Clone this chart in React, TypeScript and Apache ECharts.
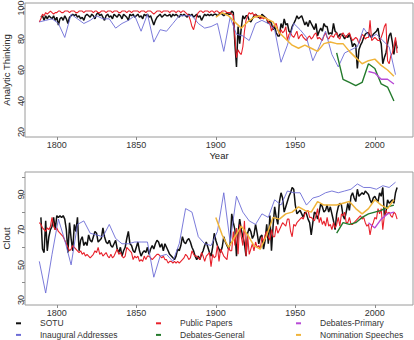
import React, { useEffect, useRef } from "react";
import * as echarts from "echarts";

// ---------- data ----------
const xTicks = [1800, 1850, 1900, 1950, 2000];
const analyticTicks = [20, 40, 60, 80, 100];
const cloutTicks = [30, 40, 50, 60, 70, 80, 90, 100];
const cloutLabels = [30, 50, 70, 90];

const SOTU_START = 1790; // yearly
const sotuAnalytic = [
  94, 95, 92, 95, 93, 95, 94, 93, 95, 92,
  94, 89, 93, 94, 92, 95, 93, 90, 94, 95,
  96, 95, 96, 94, 95, 93, 94, 92, 95, 96,
  95, 94, 96, 95, 93, 96, 97, 95, 96, 94,
  92, 95, 96, 94, 95, 93, 96, 95, 94, 96,
  95, 93, 96, 95, 94, 92, 96, 95, 96, 94,
  95, 96, 94, 95, 93, 96, 95, 96, 94, 95,
  92, 89, 92, 94, 95, 96, 94, 95, 96, 95,
  95, 96, 94, 96, 95, 96, 95, 94, 96, 95,
  96, 95, 94, 96, 95, 96, 94, 95, 96, 94,
  95, 92, 94, 96, 95, 96, 95, 96, 95, 96,
  96, 95, 96, 97, 96, 95, 96, 97, 96, 96,
  98, 97, 77, 62, 88, 77, 87, 95, 93, 95,
  95, 92, 91, 93, 95, 96, 95, 94, 93, 96,
  95, 94, 93, 90, 92, 90, 86, 88, 84, 82,
  82, 90, 87, 93, 89, 90, 85, 84, 88, 90,
  92, 95, 93, 94, 95, 92, 89, 91, 88, 92,
  90, 88, 86, 90, 82, 85, 87, 85, 90, 88,
  88, 83, 84, 83, 90, 85, 84, 81, 83, 83,
  82, 80, 82, 81, 83, 80, 75, 77, 76, 61,
  73, 76, 78, 81, 83, 84, 84, 82, 81, 83,
  84, 85, 87, 80, 77, 64, 68, 71, 77, 82,
  84, 78, 70, 79, 74,
];
const sotuClout = [
  77, 59, 57, 75, 58, 66, 70, 72, 77, 70,
  78, 77, 78, 77, 78, 76, 70, 57, 74, 65,
  58, 73, 69, 77, 58, 64, 66, 61, 63, 61,
  67, 64, 63, 66, 69, 68, 63, 64, 65, 71,
  66, 63, 62, 64, 61, 60, 62, 64, 59, 57,
  60, 55, 58, 60, 65, 69, 62, 61, 58, 57,
  60, 63, 58, 55, 57, 58, 57, 60, 56, 59,
  61, 59, 62, 64, 63, 60, 62, 58, 62, 60,
  58, 56, 55, 54, 53, 55, 59, 58, 61, 66,
  63, 62, 64, 65, 63, 60, 58, 55, 53, 55,
  53, 56, 58, 61, 63, 60, 57, 55, 60, 68,
  64, 61, 59, 57, 60, 66, 63, 61, 59, 62,
  79, 74, 70, 55, 68, 76, 70, 66, 62, 55,
  68, 71, 69, 65, 67, 73, 68, 62, 66, 67,
  59, 64, 73, 62, 78, 58, 72, 83, 77, 73,
  86, 91, 88, 80, 83, 86, 89, 91, 94, 93,
  84, 79, 80, 81, 79, 77, 80, 79, 76, 74,
  67, 74, 80, 79, 76, 80, 85, 83, 80, 81,
  84, 80, 83, 79, 75, 70, 79, 83, 85, 84,
  78, 76, 80, 85, 81, 89, 91, 88, 86, 93,
  89, 90, 91, 90, 92, 91, 90, 87, 85, 88,
  89, 87, 86, 91, 89, 94, 78, 80, 87, 85,
  86, 87, 85, 91, 94,
];

const PAPERS_START = 1789; // yearly
const papersAnalytic = [
  91,
  93, 96, 95, 97, 96, 97, 98, 97, 96, 97,
  97, 98, 98, 97, 97, 98, 98, 98, 97, 98,
  98, 98, 97, 97, 98, 98, 98, 97, 98, 98,
  98, 98, 98, 97, 98, 98, 97, 97, 98, 98,
  98, 97, 98, 98, 98, 97, 98, 98, 98, 97,
  97, 98, 98, 98, 97, 98, 98, 97, 98, 98,
  98, 98, 97, 98, 98, 98, 97, 98, 98, 98,
  97, 96, 97, 98, 98, 98, 97, 98, 98, 98,
  98, 97, 98, 98, 98, 97, 98, 98, 97, 98,
  98, 97, 96, 95, 92, 88, 86, 90, 95, 97,
  98, 98, 97, 98, 98, 98, 97, 98, 98, 97,
  98, 98, 97, 97, 98, 98, 98, 97, 97, 97,
  96, 95, 81, 68, 73, 71, 70, 75, 85, 92,
  95, 97, 96, 97, 95, 96, 94, 95, 93, 94,
  93, 94, 93, 91, 90, 85, 88, 89, 90, 86,
  83, 86, 84, 85, 88, 79, 83, 84, 82, 81,
  83, 85, 80, 82, 83, 81, 80, 79, 81, 82,
  80, 81, 83, 84, 80, 81, 80, 79, 82, 84,
  81, 80, 82, 82, 81, 83, 84, 81, 80, 83,
  84, 82, 81, 83, 84, 81, 79, 80, 81, 80,
  77, 80, 83, 82, 80, 81, 81, 92, 79, 80,
  81, 80, 79, 79, 81, 84, 88, 90, 66, 64,
  69, 71, 75, 81, 71,
];
const papersClout = [
  74,
  73, 71, 70, 69, 71, 70, 72, 77, 72, 70,
  71, 69, 68, 67, 66, 64, 62, 60, 58, 59,
  61, 60, 59, 58, 57, 58, 56, 57, 55, 56,
  55, 54, 55, 56, 58, 57, 60, 56, 57, 55,
  56, 57, 55, 54, 56, 54, 55, 57, 59, 56,
  57, 55, 54, 55, 60, 59, 58, 57, 53, 55,
  54, 55, 52, 53, 52, 55, 53, 55, 55, 54,
  53, 54, 55, 56, 56, 55, 54, 55, 53, 53,
  51, 52, 52, 51, 52, 51, 52, 51, 52, 53,
  54, 56, 55, 53, 54, 58, 56, 55, 55, 54,
  53, 57, 55, 52, 55, 56, 57, 49, 56, 54,
  55, 61, 52, 59, 57, 55, 54, 53, 60, 58,
  58, 69, 61, 71, 56, 73, 66, 61, 75, 55,
  67, 56, 59, 62, 58, 63, 60, 61, 59, 66,
  63, 67, 69, 66, 64, 70, 66, 66, 72, 68,
  70, 72, 74, 73, 72, 76, 76, 69, 66, 73,
  72, 74, 75, 76, 77, 76, 79, 80, 81, 77,
  77, 76, 75, 78, 82, 74, 77, 73, 75, 72,
  77, 72, 73, 70, 74, 71, 73, 77, 72, 79,
  78, 80, 74, 74, 77, 73, 73, 74, 75, 76,
  77, 78, 76, 77, 74, 72, 73, 67, 72, 74,
  77, 76, 82, 79, 82, 70, 78, 81, 79, 80,
  78, 77, 80, 79, 76,
];

const INAUG_START = 1789; // every 4 years
const inaugAnalytic = [
  91, 92, 93, 90, 81, 96, 93, 90,
  92, 95, 93, 93, 87, 90, 92, 95,
  85, 96, 78, 86, 85, 90, 95, 95,
  95, 90, 87, 88, 90, 72, 94, 83,
  82, 79, 90, 92, 90, 86, 65, 76,
  90, 86, 81, 66, 75, 85, 70, 62,
  71, 73, 75, 87, 81, 83, 79, 75,
  57,
];
const inaugClout = [
  52, 34, 56, 76, 64, 50, 73, 75,
  68, 67, 66, 73, 65, 62, 62, 63,
  63, 63, 43, 55, 56, 52, 62, 82,
  80, 66, 62, 61, 69, 91, 63, 89,
  80, 75, 73, 79, 77, 87, 84, 92,
  91, 91, 84, 88, 89, 91, 92, 91,
  92, 93, 96, 94, 94, 93, 95, 94,
  97,
];

const NOM_START = 1900; // every 4 years
const nomAnalytic = [
  94, 97, 95, 91, 87, 91, 94, 95, 93, 91,
  84, 80, 76, 74, 76, 74, 72, 77, 78, 77,
  77, 72, 68, 64, 66, 67, 63, 60, 56,
];
const nomClout = [
  77, 67, 60, 66, 72, 67, 61, 59, 67, 77,
  76, 79, 80, 83, 81, 80, 86, 84, 84, 84,
  85, 86, 82, 79, 82, 87, 84, 82, 87,
];

const GEN_START = 1976; // every 4 years
const genAnalytic = [71, 54, 52, 50, 52, 64, 61, 51, 49, 40];
const genClout = [68, 74, 73, 74, 77, 79, 80, 81, 83, 84];

const PRIM_START = 1996; // every 4 years
const primAnalytic = [59, 58, 54, 54, 51];
const primClout = [74, 71, 76, 79, 80];

// ---------- helpers ----------
const seq = (start: number, step: number, vals: number[]) =>
  vals.map((v, i) => [start + i * step, v]);

const FONT = "'Liberation Sans', Arial, Helvetica, sans-serif";

const SERIES_DEF = [
  { name: "SOTU", color: "#111111", width: 1.5, start: SOTU_START, step: 1, a: sotuAnalytic, c: sotuClout },
  { name: "Public Papers", color: "#e8212b", width: 1.1, start: PAPERS_START, step: 1, a: papersAnalytic, c: papersClout },
  { name: "Inaugural Addresses", color: "#6c6cd6", width: 0.9, start: INAUG_START, step: 4, a: inaugAnalytic, c: inaugClout },
  { name: "Debates-General", color: "#237a2c", width: 1.4, start: GEN_START, step: 4, a: genAnalytic, c: genClout },
  { name: "Debates-Primary", color: "#b84ad6", width: 1.4, start: PRIM_START, step: 4, a: primAnalytic, c: primClout },
  { name: "Nomination Speeches", color: "#f0b43a", width: 1.5, start: NOM_START, step: 4, a: nomAnalytic, c: nomClout },
];

const plain = (v: number) => String(v);

export default function App() {
  const ref = useRef<HTMLDivElement>(null);

  useEffect(() => {
    if (!ref.current) return;
    const chart = echarts.init(ref.current, undefined, { renderer: "svg" });

    const axisGray = "#8a8a8a";
    const labelColor = "#333333";

    const xAxisBase = (gridIndex: number, withName: boolean) => ({
      gridIndex,
      type: "value",
      min: 1780,
      max: 2024,
      name: withName ? "Year" : "",
      nameLocation: "middle",
      nameGap: 13,
      nameMoveOverlap: false,
      nameTextStyle: { fontSize: 9.5, color: "#222", fontFamily: FONT },
      axisLine: { show: false },
      splitLine: { show: false },
      axisTick: { show: true, customValues: xTicks, length: 3, lineStyle: { color: axisGray } },
      axisLabel: { customValues: xTicks, formatter: plain, fontSize: 9, color: labelColor, margin: 3, fontFamily: FONT },
    });

    const yAxisBase = (gridIndex: number, name: string, min: number, max: number, ticks: number[], labels: number[]) => ({
      gridIndex,
      type: "value",
      min,
      max,
      name,
      nameLocation: "middle",
      nameRotate: 90,
      nameGap: 14,
      nameMoveOverlap: false,
      nameTextStyle: { fontSize: 9.5, lineHeight: 10, color: "#222", fontFamily: FONT },
      axisLine: { show: false },
      splitLine: { show: false },
      axisTick: { show: true, customValues: ticks, length: 3, lineStyle: { color: axisGray } },
      axisLabel: { customValues: labels, formatter: plain, rotate: 90, margin: 0, fontSize: 9, color: labelColor, fontFamily: FONT },
    });

    const series: any[] = [];
    [0, 1].forEach((g) => {
      SERIES_DEF.forEach((s) => {
        series.push({
          type: "line",
          name: s.name,
          xAxisIndex: g,
          yAxisIndex: g,
          data: seq(s.start, s.step, g === 0 ? s.a : s.c),
          showSymbol: false,
          symbol: "none",
          color: s.color,
          lineStyle: { width: s.width, color: s.color },
          silent: true,
        });
      });
    });

    const legendBase = {
      orient: "vertical",
      top: 317.5,
      height: 24,
      itemWidth: 5,
      itemHeight: 2,
      itemGap: 0,
      icon: "rect",
      padding: 0,
      selectedMode: false,
      textStyle: { fontSize: 8.5, color: "#333", lineHeight: 11.6, padding: [0, 0, 0, 14], fontFamily: FONT },
    };

    chart.setOption({
      animation: false,
      backgroundColor: "#ffffff",
      textStyle: { fontFamily: FONT },
      grid: [
        { left: 25, top: 3, width: 388, height: 134, show: true, borderColor: "#9a9a9a", borderWidth: 1, outerBoundsMode: "none", containLabel: false },
        { left: 25, top: 172, width: 388, height: 133, show: true, borderColor: "#9a9a9a", borderWidth: 1, outerBoundsMode: "none", containLabel: false },
      ],
      xAxis: [xAxisBase(0, true), xAxisBase(1, false)],
      yAxis: [
        yAxisBase(0, "Analytic Thinking", 16.8, 103.2, analyticTicks, analyticTicks),
        yAxisBase(1, "Clout", 27.2, 102.8, cloutTicks, cloutLabels),
      ],
      legend: [
        { ...legendBase, left: 16, data: ["SOTU", "Inaugural Addresses"] },
        { ...legendBase, left: 156, data: ["Public Papers", "Debates-General"] },
        { ...legendBase, left: 296, data: ["Debates-Primary", "Nomination Speeches"] },
      ],
      series,
    });

    return () => chart.dispose();
  }, []);

  return (
    <div
      ref={ref}
      style={{ position: "absolute", left: 0, top: 0, width: 414, height: 340, background: "#fff" }}
    />
  );
}
